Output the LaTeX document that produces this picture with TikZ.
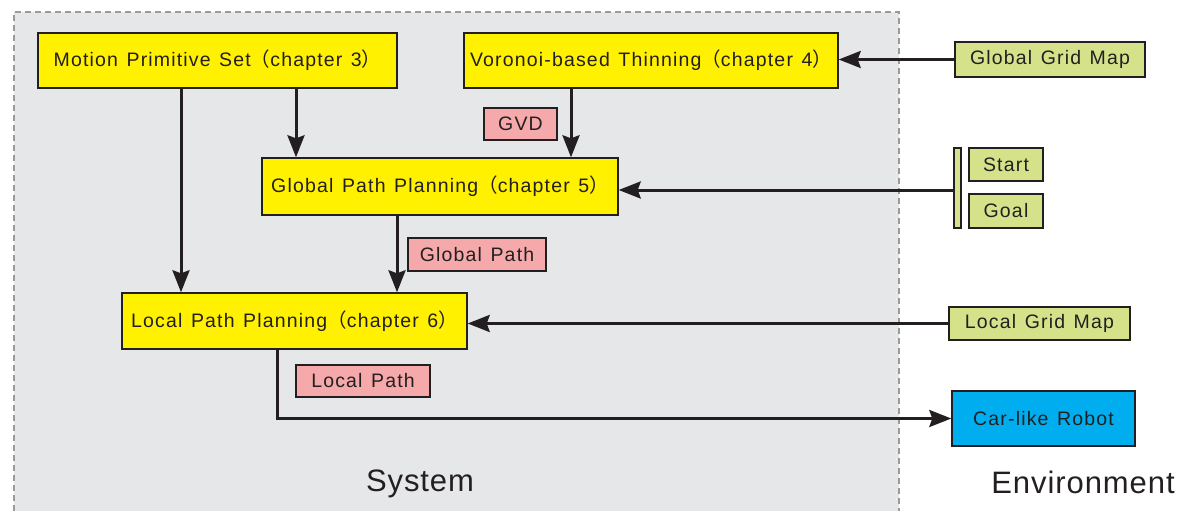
\documentclass[tikz,border=0pt]{standalone}
\usepackage{fontspec}
\setmainfont{Liberation Sans}[WordSpace=1.3]
\newfontfamily\cjk{Noto Sans CJK SC}
\usetikzlibrary{arrows.meta}
\definecolor{sysgray}{HTML}{E6E7E9}
\definecolor{dashgray}{HTML}{9A9A9A}
\definecolor{boxyellow}{HTML}{FFF100}
\definecolor{labelpink}{HTML}{F5A9AA}
\definecolor{envgreen}{HTML}{D6E28A}
\definecolor{robotblue}{HTML}{00AEEF}
\definecolor{ink}{HTML}{231F20}
\newcommand{\lp}{{\cjk （}}
\newcommand{\rp}{{\cjk ）}}
\tikzset{
  boxbase/.style={draw=ink, line width=1.4pt, inner sep=0pt, text=ink,
    font=\addfontfeature{LetterSpace=6}\fontsize{19.5}{22}\selectfont},
  module/.style={boxbase, fill=boxyellow},
  datalabel/.style={boxbase, fill=labelpink},
  envbox/.style={boxbase, fill=envgreen},
  robotbox/.style={boxbase, fill=robotblue},
  arr/.style={draw=ink, line width=3pt, -{Stealth[length=22pt,width=17pt,inset=3pt]}},
  region/.style={text=ink, font=\addfontfeature{LetterSpace=3}\fontsize{31}{35}\selectfont}
}
\begin{document}
\begin{tikzpicture}[x=1pt,y=-1pt]
\useasboundingbox (0,0) rectangle (1178,511);
% system region
\fill[sysgray] (14,12) rectangle (899,511);
\draw[dashgray, line width=2pt, dash pattern=on 6pt off 4pt] (14,511) -- (14,12) -- (899,12) -- (899,511);

% modules
\node[module, minimum width=359pt, minimum height=55pt] (motion) at (217.5,60.5)
  {Motion Primitive Set\lp chapter 3\rp};
\node[module, minimum width=374pt, minimum height=55pt] (voronoi) at (651,60.5)
  {Voronoi-based Thinning\lp chapter 4\rp};
\node[module, minimum width=356pt, minimum height=57pt] (gpp) at (440,186.5)
  {Global Path Planning\lp chapter 5\rp};
\node[module, minimum width=345pt, minimum height=56pt] (lpp) at (294.5,321)
  {Local Path Planning\lp chapter 6\rp};

% data labels
\node[datalabel, minimum width=73pt, minimum height=32pt] (gvd) at (520.5,124) {GVD};
\node[datalabel, minimum width=138pt, minimum height=33pt] (gpath) at (477,254.5) {Global Path};
\node[datalabel, minimum width=134pt, minimum height=32pt] (lpath) at (363,381) {Local Path};

% environment
\node[envbox, minimum width=190pt, minimum height=35pt] (ggm) at (1050,59.5) {Global Grid Map};
\node[envbox, minimum width=7pt, minimum height=80pt] (bar) at (957.5,188) {};
\node[envbox, minimum width=74pt, minimum height=33pt] (start) at (1006,164.5) {Start};
\node[envbox, minimum width=74pt, minimum height=34pt] (goal) at (1006,211) {Goal};
\node[envbox, minimum width=181pt, minimum height=33pt] (lgm) at (1039.5,323.5) {Local Grid Map};
\node[robotbox, minimum width=183pt, minimum height=55pt] (robot) at (1043.5,418.5) {Car-like Robot};

% region titles
\node[region] (systxt) at (420,484) {System};
\node[region] (envtxt) at (1083,482) {Environment};

% connectors
\coordinate (m1) at ([xshift=-36.5pt]motion.south);
\coordinate (m2) at ([xshift=78.5pt]motion.south);
\coordinate (v1) at ([xshift=-80pt]voronoi.south);
\coordinate (g1) at ([xshift=-43pt]gpp.south);
\coordinate (b1) at ([yshift=-2pt]bar.west);
\coordinate (l1) at ([xshift=-17.5pt]lpp.south);

\draw[arr] (m1) -- (m1 |- lpp.north);
\draw[arr] (m2) -- (m2 |- gpp.north);
\draw[arr] (v1) -- (v1 |- gpp.north);
\draw[arr] (g1) -- (g1 |- lpp.north);
\draw[arr] (ggm.west) -- (ggm.west -| voronoi.east);
\draw[arr] (b1) -- (b1 -| gpp.east);
\draw[arr] (lgm.west) -- (lgm.west -| lpp.east);
\draw[arr] (l1) |- (robot.west);
\end{tikzpicture}
\end{document}
